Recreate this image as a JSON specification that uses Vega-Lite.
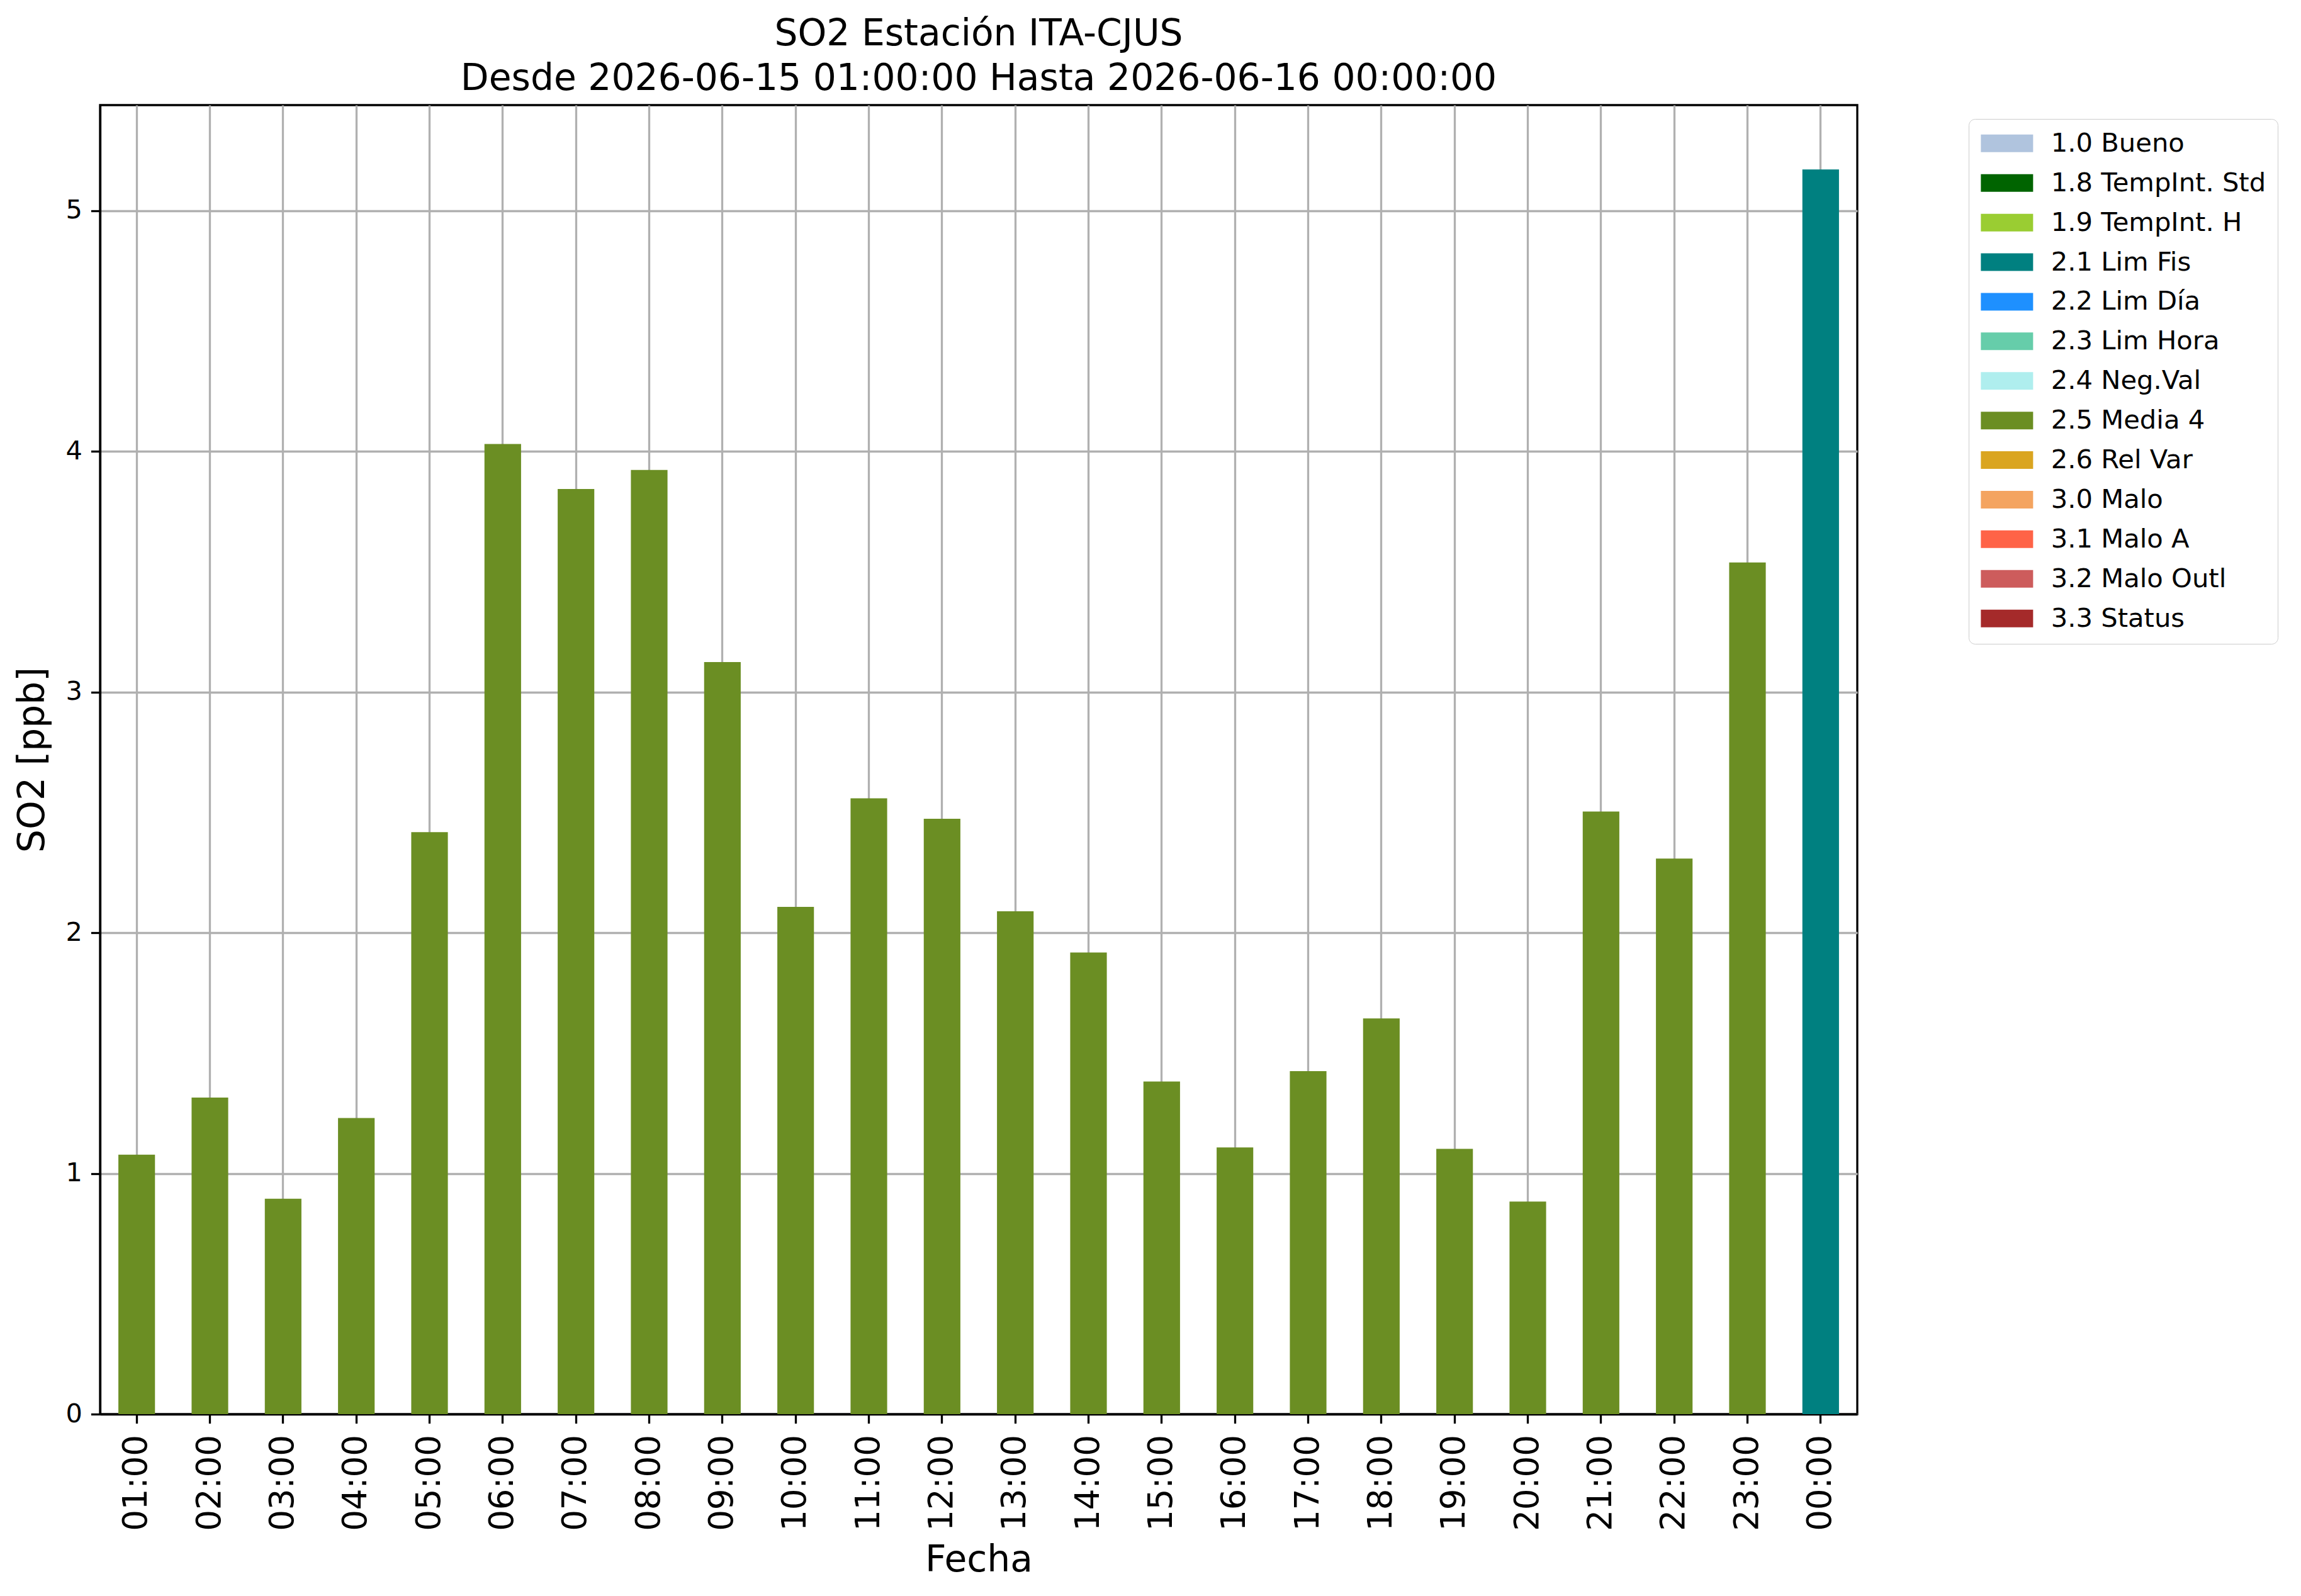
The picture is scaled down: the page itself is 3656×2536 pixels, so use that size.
{
  "$schema": "https://vega.github.io/schema/vega-lite/v6.json",
  "width": 2792,
  "height": 2080,
  "autosize": {"type": "none"},
  "padding": {"left": 159, "top": 167, "right": 705, "bottom": 289},
  "background": "white",
  "title": {
    "text": ["SO2 Estación ITA-CJUS", "Desde 2026-06-15 01:00:00 Hasta 2026-06-16 00:00:00"],
    "font": "DejaVu Sans",
    "fontSize": 58.3,
    "fontWeight": "normal",
    "color": "black",
    "lineHeight": 71,
    "anchor": "middle",
    "offset": 12
  },
  "config": {
    "view": {"stroke": "black", "strokeWidth": 3.3},
    "axis": {
      "labelFont": "DejaVu Sans",
      "titleFont": "DejaVu Sans",
      "titleFontWeight": "normal",
      "titleFontSize": 58.3,
      "titleColor": "black",
      "labelColor": "black",
      "domainColor": "black",
      "domainWidth": 3.3,
      "tickColor": "black",
      "tickWidth": 3.3,
      "tickSize": 14.6,
      "gridColor": "#b0b0b0",
      "gridWidth": 3.3,
      "gridOpacity": 1,
      "zindex": 1
    },
    "legend": {
      "labelFont": "DejaVu Sans",
      "labelFontSize": 41.7,
      "labelColor": "black",
      "labelLimit": 0
    }
  },
  "data": {
    "values": [
      {"hora": "01:00", "so2": 1.078, "flag": "2.5 Media 4"},
      {"hora": "02:00", "so2": 1.315, "flag": "2.5 Media 4"},
      {"hora": "03:00", "so2": 0.895, "flag": "2.5 Media 4"},
      {"hora": "04:00", "so2": 1.230, "flag": "2.5 Media 4"},
      {"hora": "05:00", "so2": 2.418, "flag": "2.5 Media 4"},
      {"hora": "06:00", "so2": 4.030, "flag": "2.5 Media 4"},
      {"hora": "07:00", "so2": 3.843, "flag": "2.5 Media 4"},
      {"hora": "08:00", "so2": 3.922, "flag": "2.5 Media 4"},
      {"hora": "09:00", "so2": 3.124, "flag": "2.5 Media 4"},
      {"hora": "10:00", "so2": 2.107, "flag": "2.5 Media 4"},
      {"hora": "11:00", "so2": 2.558, "flag": "2.5 Media 4"},
      {"hora": "12:00", "so2": 2.473, "flag": "2.5 Media 4"},
      {"hora": "13:00", "so2": 2.089, "flag": "2.5 Media 4"},
      {"hora": "14:00", "so2": 1.918, "flag": "2.5 Media 4"},
      {"hora": "15:00", "so2": 1.382, "flag": "2.5 Media 4"},
      {"hora": "16:00", "so2": 1.108, "flag": "2.5 Media 4"},
      {"hora": "17:00", "so2": 1.425, "flag": "2.5 Media 4"},
      {"hora": "18:00", "so2": 1.644, "flag": "2.5 Media 4"},
      {"hora": "19:00", "so2": 1.102, "flag": "2.5 Media 4"},
      {"hora": "20:00", "so2": 0.883, "flag": "2.5 Media 4"},
      {"hora": "21:00", "so2": 2.503, "flag": "2.5 Media 4"},
      {"hora": "22:00", "so2": 2.308, "flag": "2.5 Media 4"},
      {"hora": "23:00", "so2": 3.538, "flag": "2.5 Media 4"},
      {"hora": "00:00", "so2": 5.171, "flag": "2.1 Lim Fis"}
    ]
  },
  "mark": {"type": "bar"},
  "encoding": {
    "x": {
      "field": "hora",
      "type": "nominal",
      "sort": null,
      "title": "Fecha",
      "scale": {"paddingInner": 0.5, "paddingOuter": 0.25},
      "axis": {
        "labelAngle": -90,
        "labelFontSize": 53,
        "labelPadding": 18,
        "labelBaseline": "middle",
        "labelAlign": "right",
        "titlePadding": 18,
        "grid": true,
        "bandPosition": 0.5
      }
    },
    "y": {
      "field": "so2",
      "type": "quantitative",
      "title": "SO2 [ppb]",
      "scale": {"domain": [0, 5.438], "nice": false, "zero": true},
      "axis": {
        "values": [0, 1, 2, 3, 4, 5],
        "labelFontSize": 41.5,
        "labelPadding": 14,
        "titlePadding": 22,
        "grid": true
      }
    },
    "color": {
      "field": "flag",
      "type": "nominal",
      "title": null,
      "scale": {
        "domain": ["1.0 Bueno", "1.8 TempInt. Std", "1.9 TempInt. H", "2.1 Lim Fis", "2.2 Lim Día", "2.3 Lim Hora", "2.4 Neg.Val", "2.5 Media 4", "2.6 Rel Var", "3.0 Malo", "3.1 Malo A", "3.2 Malo Outl", "3.3 Status"],
        "range": ["#B0C4DE", "#006400", "#9ACD32", "#008080", "#1E90FF", "#66CDAA", "#AFEEEE", "#6B8E23", "#DAA520", "#F4A460", "#FF6347", "#CD5C5C", "#A52A2A"]
      },
      "legend": {
        "orient": "none",
        "legendX": 2969,
        "legendY": 22,
        "symbolType": "M-2.515,-0.848L2.515,-0.848L2.515,0.848L-2.515,0.848Z",
        "symbolSize": 1089,
        "symbolOffset": 22,
        "symbolStrokeWidth": 0,
        "symbolOpacity": 1,
        "labelOffset": 49,
        "rowPadding": 19.9,
        "padding": 18,
        "strokeColor": "#cccccc",
        "fillColor": "white",
        "cornerRadius": 10
      }
    }
  }
}
